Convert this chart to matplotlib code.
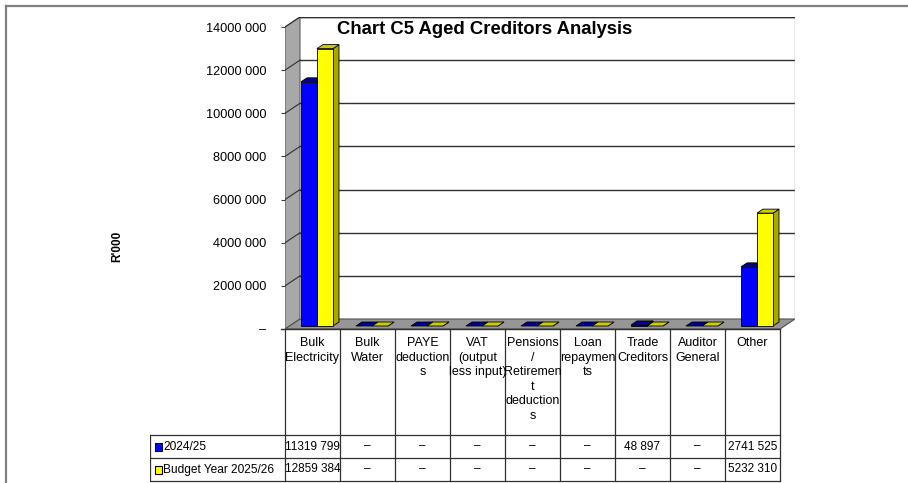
import matplotlib
matplotlib.use("Agg")
import matplotlib.pyplot as plt
from matplotlib.patches import Polygon, Rectangle
from matplotlib.lines import Line2D
from matplotlib import font_manager

# datos del grafico
categorias = ["Bulk\nElectricity", "Bulk\nWater", "PAYE\ndeduction\ns",
              "VAT\n(output\nless input)", "Pensions\n/\nRetiremen\nt\ndeduction\ns",
              "Loan\nrepaymen\nts", "Trade\nCreditors", "Auditor\nGeneral", "Other"]
serie_2024 = [11319799, 0, 0, 0, 0, 0, 48897, 0, 2741525]
serie_2025 = [12859384, 0, 0, 0, 0, 0, 0, 0, 5232310]
nombres = ["2024/25", "Budget Year 2025/26"]
titulo = "Chart C5 Aged Creditors Analysis"
eje_y = "R'000"
ticks_y = [0, 2000000, 4000000, 6000000, 8000000, 10000000, 12000000, 14000000]

nombres_fuentes = {f.name for f in font_manager.fontManager.ttflist}
if "Liberation Sans Narrow" in nombres_fuentes:
    estrecha = "Liberation Sans Narrow"
    esc = 1.15
else:
    estrecha = "Liberation Sans"
    esc = 1.0


def formato(v):
    if v == 0:
        return "\u2013"
    v = int(round(v))
    if v >= 1000:
        return "%d %03d" % (v // 1000, v % 1000)
    return str(v)


W, H = 908, 483
fig = plt.figure(figsize=(W / 100, H / 100), dpi=100)

# marco gris
fig.add_artist(Line2D([6 / W, 1], [1 - 6 / H, 1 - 6 / H], color="#808080", lw=1.6))
fig.add_artist(Line2D([6 / W, 6 / W], [0, 1 - 6 / H], color="#808080", lw=1.6))

n = len(categorias)
ymax = ticks_y[-1]
DX = 15 / 55.0                 # profundidad en unidades de categoria
DY = 10 * ymax / 302.0         # profundidad en unidades de valor

ax = fig.add_axes([285 / W, (H - 329) / H, 510 / W, 312 / H])
ax.set_xlim(0, n + DX)
ax.set_ylim(0, ymax + DY)
for s in ax.spines.values():
    s.set_visible(False)
ax.set_xticks([])
ax.set_yticks(ticks_y)
ax.set_yticklabels([formato(t) for t in ticks_y], family=[estrecha, "DejaVu Sans"],
                   fontsize=9.2 * esc)
ax.tick_params(axis="y", length=3, width=0.8, color="#404040", pad=10.5)
ax.patch.set_visible(False)

# paredes
ax.add_patch(Polygon([(DX, DY), (n + DX, DY), (n + DX, ymax + DY), (DX, ymax + DY)],
                     closed=True, facecolor="white", edgecolor="none", zorder=0))
ax.add_patch(Polygon([(0, 0), (DX, DY), (DX, ymax + DY), (0, ymax)], closed=True,
                     facecolor="#a8a8a8", edgecolor="#606060", lw=0.8, zorder=1))
ax.add_patch(Polygon([(0, 0), (n, 0), (n + DX, DY), (DX, DY)], closed=True,
                     facecolor="#969696", edgecolor="#505050", lw=0.8, zorder=1))
for t in ticks_y[1:]:
    ax.plot([DX, n + DX], [t + DY, t + DY], color="#303030", lw=1.0, zorder=1)
    ax.plot([0, DX], [t, t + DY], color="#303030", lw=0.8, zorder=1)
ax.plot([n + DX, n + DX], [DY, ymax + DY], color="#909090", lw=1.0, zorder=1)
ax.plot([DX, n + DX], [ymax + DY, ymax + DY], color="#303030", lw=1.0, zorder=1)

# barras 3d
f0, fd = 0.3, 0.4
bw = 16 / 55.0
colores = [("#0000ff", "#000099", "#00007a"), ("#ffff00", "#cccc00", "#a8a800")]
series = [serie_2024, serie_2025]
z = 3
for i in range(n):
    for s, vals in enumerate(series):
        v = vals[i]
        frente, tapa, lado = colores[s]
        x0 = i + 0.5 - bw + s * bw + f0 * DX
        y0 = f0 * DY
        ddx, ddy = fd * DX, fd * DY
        ax.add_patch(Polygon([(x0 + bw, y0), (x0 + bw + ddx, y0 + ddy),
                              (x0 + bw + ddx, y0 + v + ddy), (x0 + bw, y0 + v)],
                             closed=True, facecolor=lado, edgecolor="black", lw=0.6, zorder=z))
        if v > 0:
            ax.bar(x0, v, bw, bottom=y0, align="edge", color=frente,
                   edgecolor="black", lw=0.6, zorder=z + 0.1)
        ax.add_patch(Polygon([(x0, y0 + v), (x0 + bw, y0 + v), (x0 + bw + ddx, y0 + v + ddy),
                              (x0 + ddx, y0 + v + ddy)], closed=True, facecolor=tapa,
                             edgecolor="black", lw=0.6, zorder=z + 0.2))
        z += 0.5

ax.plot([-4 / 55.0, n], [0, 0], color="#303030", lw=1.0, zorder=2, clip_on=False)

fig.text(485 / W, 1 - 30 / H, titulo, ha="center", va="center", fontsize=13.3 * esc,
         fontweight="bold", family=[estrecha, "DejaVu Sans"])
fig.text(117 / W, 1 - 246 / H, eje_y, rotation=90, ha="center", va="center",
         fontsize=8.5, fontweight="bold", family="Liberation Sans")

# tabla de datos
izq = -135 / 55.0
tx = fig.add_axes([150 / W, 0, 645 / W, 154 / H])
tx.set_xlim(izq, n + DX)
tx.set_ylim(154, 0)
tx.axis("off")
fuente = dict(family=[estrecha, "DejaVu Sans"], fontsize=9 * esc)
for i in range(n + 1):
    tx.plot([i, i], [0, 152], color="#303030", lw=0.9)
tx.plot([izq, izq], [106, 152], color="#303030", lw=0.9)
for yy in (106, 129, 152):
    tx.plot([izq, n], [yy, yy], color="#303030", lw=0.9)
for i, c in enumerate(categorias):
    tx.text(i + 0.5, 8, c, ha="center", va="top", linespacing=1.28, **fuente)
for r, vals in enumerate(series):
    yc = 117.5 + 23 * r
    tx.add_patch(Rectangle((izq + 5 / 55.0, yc - 4), 7 / 55.0, 8, facecolor=colores[r][0],
                           edgecolor="black", lw=0.8))
    tx.text(izq + 13 / 55.0, yc, nombres[r], ha="left", va="center",
            family=[estrecha, "DejaVu Sans"], fontsize=8.6 * esc)
    for i, v in enumerate(vals):
        tx.text(i + 0.5, yc, formato(v), ha="center", va="center",
                family=[estrecha, "DejaVu Sans"], fontsize=8.5 * esc)

fig.savefig("out.png", dpi=100)
